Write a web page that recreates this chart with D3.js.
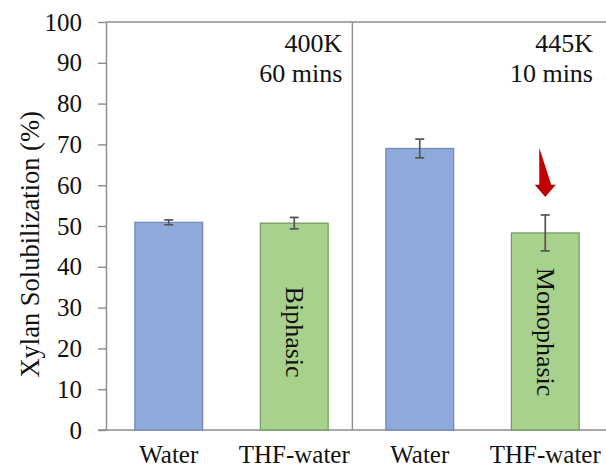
<!DOCTYPE html>
<html>
<head>
<meta charset="utf-8">
<script src="https://cdn.jsdelivr.net/npm/d3@7"></script>
<style>
  body { margin: 0; background: #fff; }
  svg text { font-family: "Liberation Serif", "Times New Roman", "DejaVu Serif", serif; fill: #111; }
</style>
</head>
<body>
<div id="chart"></div>
<script>
// Xylan solubilization bar chart, two conditions, two solvents each

const categories = ['Water', 'THF-water', 'Water ', 'THF-water '];   // trailing space keeps band keys unique
const solubilization = [50.9, 50.7, 69.0, 48.3];
const errors = [0.6, 1.4, 2.3, 4.4];
const barKinds = ['water', 'thf', 'water', 'thf'];
const phaseLabels = ['', 'Biphasic', '', 'Monophasic'];
const yTicks = [0, 10, 20, 30, 40, 50, 60, 70, 80, 90, 100];
const groupNotes = [['400K', '60 mins'], ['445K', '10 mins']];

const width = 606, height = 468;
const margin = { top: 22, right: -2, bottom: 38, left: 106 };
const axisColor = '#8c8c8c';
const fills = { water: '#8eaadb', thf: '#a9d18e' };
const strokes = { water: '#6d88b8', thf: '#6f9a58' };

const svg = d3.select('#chart')
              .append('svg')
              .attr('width', width)
              .attr('height', height);

const x = d3.scaleBand()
            .domain(categories)
            .range([margin.left, width - margin.right])
            .paddingInner(0.46)
            .paddingOuter(0.23);

const y = d3.scaleLinear()
            .domain([0, 100])
            .range([height - margin.bottom, margin.top]);

// --- Y axis ---
const yAxis = svg.append('g')
   .attr('transform', 'translate(' + margin.left + ',0)')
   .call(d3.axisLeft(y).tickValues(yTicks).tickSize(8).tickSizeOuter(0).tickPadding(16));
yAxis.attr('font-family', null).attr('font-size', null);            // let the css serif font apply
yAxis.select('.domain').attr('stroke', axisColor).attr('stroke-width', 1.4);
yAxis.selectAll('.tick line').attr('stroke', axisColor).attr('stroke-width', 1.4);
yAxis.selectAll('.tick text').attr('font-size', 25).attr('fill', '#111');

// top frame line
svg.append('line')
   .attr('x1', margin.left).attr('x2', width)
   .attr('y1', y(100)).attr('y2', y(100))
   .attr('stroke', axisColor).attr('stroke-width', 1.4);

const xAxis = svg.append('g')
   .attr('transform', 'translate(0,' + y(0) + ')')
   .call(d3.axisBottom(x).tickSize(0).tickPadding(15));
xAxis.attr('font-family', null).attr('font-size', null);
xAxis.select('.domain').attr('d', 'M' + (margin.left - 8) + ',0H' + width).attr('stroke', axisColor).attr('stroke-width', 1.4);
xAxis.selectAll('.tick text').attr('font-size', 25).attr('fill', '#111');

// divider between the two conditions (sits a bit left of the gap centre)
const gapL = x(categories[1]) + x.bandwidth(), gapR = x(categories[2]);
const divX = gapL + (gapR - gapL) * 0.42;
svg.append('line')
   .attr('x1', divX).attr('x2', divX)
   .attr('y1', y(100)).attr('y2', y(0))
   .attr('stroke', axisColor).attr('stroke-width', 1.4);

// --- Bars ---
const data = categories.map((c, i) => ({ cat: c, v: solubilization[i], e: errors[i], kind: barKinds[i], label: phaseLabels[i] }));

svg.selectAll('rect.bar')
   .data(data)
   .enter()
   .append('rect')
   .attr('class', 'bar')
   .attr('x', d => x(d.cat))
   .attr('width', x.bandwidth())
   .attr('y', d => y(d.v))
   .attr('height', d => y(0) - y(d.v))
   .attr('fill', d => fills[d.kind])
   .attr('stroke', d => strokes[d.kind])
   .attr('stroke-width', 1.2);

// --- Error bars ---
const err = svg.selectAll('g.err')
   .data(data)
   .enter()
   .append('g')
   .attr('class', 'err')
   .attr('stroke', '#555')
   .attr('stroke-width', 1.7);
err.append('line')
   .attr('x1', d => x(d.cat) + x.bandwidth() / 2).attr('x2', d => x(d.cat) + x.bandwidth() / 2)
   .attr('y1', d => y(d.v - d.e)).attr('y2', d => y(d.v + d.e));
[-1, 1].forEach(s => {
  err.append('line')
     .attr('x1', d => x(d.cat) + x.bandwidth() / 2 - 4.5).attr('x2', d => x(d.cat) + x.bandwidth() / 2 + 4.5)
     .attr('y1', d => y(d.v + s * d.e)).attr('y2', d => y(d.v + s * d.e));
});

// rotated phase labels inside the green bars
svg.selectAll('text.phase')
   .data(data.filter(d => d.label))
   .enter()
   .append('text')
   .attr('class', 'phase')
   .attr('font-size', 26)
   .attr('text-anchor', 'middle')
   .attr('dominant-baseline', 'central')
   .attr('transform', d => 'translate(' + (x(d.cat) + x.bandwidth() / 2) + ',' + y(24) + ') rotate(90)')
   .text(d => d.label);

// condition notes, right-aligned in each half
const noteRight = [divX - 10, width - 13];
groupNotes.forEach((lines, g) => {
  lines.forEach((t, j) => {
    svg.append('text')
       .attr('x', noteRight[g])
       .attr('y', 52 + j * 30)
       .attr('font-size', 26)
       .attr('text-anchor', 'end')
       .text(t);
  });
});

// red arrow above the monophasic bar
const ax = x(categories[3]) + x.bandwidth() / 2;
svg.append('path')
   .attr('d', 'M' + (ax - 6) + ',' + y(69.2) + 'V' + y(60.1) + 'H' + (ax - 10.5) + 'L' + ax + ',' + y(57.1) +
              'L' + (ax + 10.5) + ',' + y(60.1) + 'H' + (ax + 6) + 'Z')
   .attr('fill', '#c00000');

// Y label
svg.append('text')
   .attr('transform', 'translate(30,' + y(45.5) + ') rotate(-90)')
   .attr('font-size', 26.5)
   .attr('text-anchor', 'middle')
   .attr('dominant-baseline', 'central')
   .text('Xylan Solubilization (%)');
</script>
</body>
</html>
